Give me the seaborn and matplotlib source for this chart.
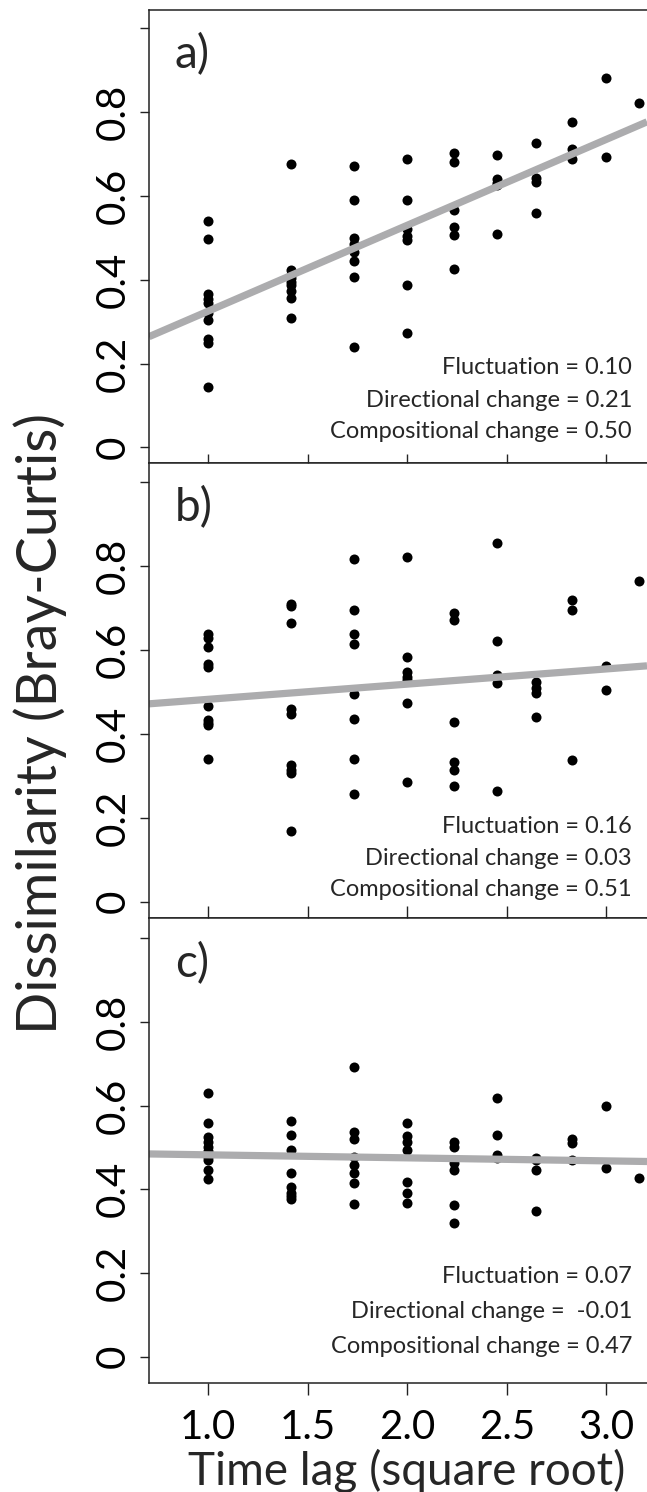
import numpy as np
import pandas as pd
import matplotlib
matplotlib.use('Agg')
import matplotlib.pyplot as plt
import seaborn as sns

# time lags between samples (plotted as square root)
lags = [1, 2, 3, 4, 5, 6, 7, 8, 9, 10]

# Bray-Curtis dissimilarities, one list per lag
dissim_a = [
    [0.540, 0.498, 0.367, 0.353, 0.345, 0.320, 0.303, 0.259, 0.250, 0.143],
    [0.677, 0.422, 0.410, 0.404, 0.395, 0.388, 0.372, 0.357, 0.309],
    [0.670, 0.590, 0.500, 0.485, 0.465, 0.445, 0.406, 0.239],
    [0.687, 0.591, 0.520, 0.505, 0.495, 0.387, 0.273],
    [0.701, 0.680, 0.565, 0.525, 0.506, 0.426],
    [0.698, 0.640, 0.630, 0.625, 0.509],
    [0.725, 0.642, 0.632, 0.558],
    [0.777, 0.711, 0.688],
    [0.882, 0.693],
    [0.822],
]
dissim_b = [
    [0.637, 0.628, 0.607, 0.567, 0.558, 0.467, 0.433, 0.425, 0.420, 0.341],
    [0.710, 0.705, 0.664, 0.460, 0.448, 0.325, 0.313, 0.306, 0.169],
    [0.817, 0.695, 0.637, 0.613, 0.494, 0.434, 0.341, 0.256],
    [0.822, 0.583, 0.548, 0.535, 0.528, 0.474, 0.284],
    [0.687, 0.672, 0.427, 0.333, 0.313, 0.276],
    [0.855, 0.622, 0.541, 0.521, 0.263],
    [0.524, 0.508, 0.496, 0.439],
    [0.718, 0.694, 0.337],
    [0.562, 0.504],
    [0.764],
]
dissim_c = [
    [0.631, 0.559, 0.524, 0.513, 0.502, 0.492, 0.478, 0.469, 0.446, 0.424],
    [0.564, 0.530, 0.494, 0.440, 0.405, 0.392, 0.385, 0.378],
    [0.693, 0.538, 0.520, 0.478, 0.458, 0.440, 0.414, 0.364],
    [0.559, 0.527, 0.512, 0.494, 0.418, 0.392, 0.367],
    [0.512, 0.500, 0.464, 0.445, 0.363, 0.319],
    [0.619, 0.530, 0.482, 0.475],
    [0.476, 0.470, 0.446, 0.348],
    [0.520, 0.510, 0.469],
    [0.600, 0.450],
    [0.426],
]

panel_labels = ['a)', 'b)', 'c)']
fluctuation = ['0.10', '0.16', '0.07']
directional = ['0.21', '0.03', ' -0.01']
compositional = ['0.50', '0.51', '0.47']

sns.set_theme(style='ticks')
plt.rcParams['font.family'] = ['Lato', 'DejaVu Sans']
plt.rcParams['axes.linewidth'] = 1.1
plt.rcParams['axes.edgecolor'] = '#222222'


def to_frame(groups):
    rows = []
    for lag, vals in zip(lags, groups):
        for v in vals:
            rows.append({'sqrt_lag': np.sqrt(lag), 'dissim': v})
    return pd.DataFrame(rows)


fig = plt.figure(figsize=(6.47, 14.92), dpi=100)
# axes boxes in figure fraction: left, bottom, width, height
boxes = [
    [0.2303, 0.6897, 0.7697, 0.3036],
    [0.2303, 0.3847, 0.7697, 0.3050],
    [0.2303, 0.0731, 0.7697, 0.3117],
]
ylims = [(-0.037, 1.043), (-0.039, 1.045), (-0.063, 1.049)]
text_y = [(0.196, 0.124, 0.055), (0.187, 0.116, 0.048), (0.215, 0.140, 0.065)]

for i, groups in enumerate([dissim_a, dissim_b, dissim_c]):
    ax = fig.add_axes(boxes[i])
    ax.set_xlim(0.703, 3.204)
    ax.set_ylim(*ylims[i])
    df = to_frame(groups)
    sns.regplot(data=df, x='sqrt_lag', y='dissim', ax=ax, ci=None, truncate=False,
                scatter_kws=dict(s=52, color='black', linewidths=0, alpha=1),
                line_kws=dict(color='#acacae', lw=5.2, solid_capstyle='butt'))
    ax.set_xlabel('')
    ax.set_ylabel('')
    ax.spines['right'].set_visible(False)

    ax.set_yticks([0, 0.2, 0.4, 0.6, 0.8, 1.0])
    ax.set_yticklabels(['0', '0.2', '0.4', '0.6', '0.8', ''])
    ax.tick_params(axis='y', direction='out', length=6.5, width=1.0, pad=6,
                   labelsize=29, colors='#222222', labelcolor='black')
    plt.setp(ax.get_yticklabels(), rotation=90, va='center')

    ax.set_xticks([1.0, 1.5, 2.0, 2.5, 3.0])
    if i == 0:
        ax.tick_params(axis='x', bottom=False, top=False, labelbottom=False)
    elif i == 1:
        ax.tick_params(axis='x', bottom=False, top=True, labelbottom=False,
                       labeltop=False, direction='out', length=6.5, width=1.0)
    else:
        ax.tick_params(axis='x', bottom=True, top=True, labelbottom=True,
                       labeltop=False, direction='out', length=8.5, width=1.0,
                       pad=10, labelsize=29, colors='#222222', labelcolor='black')
        ax.set_xticklabels(['1.0', '1.5', '2.0', '2.5', '3.0'])

    ax.text(0.052, 0.872, panel_labels[i], transform=ax.transAxes,
            fontsize=33, va='baseline', ha='left')
    ty = text_y[i]
    ax.text(0.97, ty[0], f'Fluctuation = {fluctuation[i]}', transform=ax.transAxes,
            fontsize=17, ha='right', va='baseline')
    ax.text(0.97, ty[1], f'Directional change = {directional[i]}', transform=ax.transAxes,
            fontsize=17, ha='right', va='baseline')
    ax.text(0.97, ty[2], f'Compositional change = {compositional[i]}', transform=ax.transAxes,
            fontsize=17, ha='right', va='baseline')

fig.text(0.062, 0.515, 'Dissimilarity (Bray-Curtis)', rotation=90,
         fontsize=40, ha='center', va='center')
fig.text(0.629, 0.014, 'Time lag (square root)', fontsize=33, ha='center', va='center')

fig.savefig('out.png', dpi=100)
